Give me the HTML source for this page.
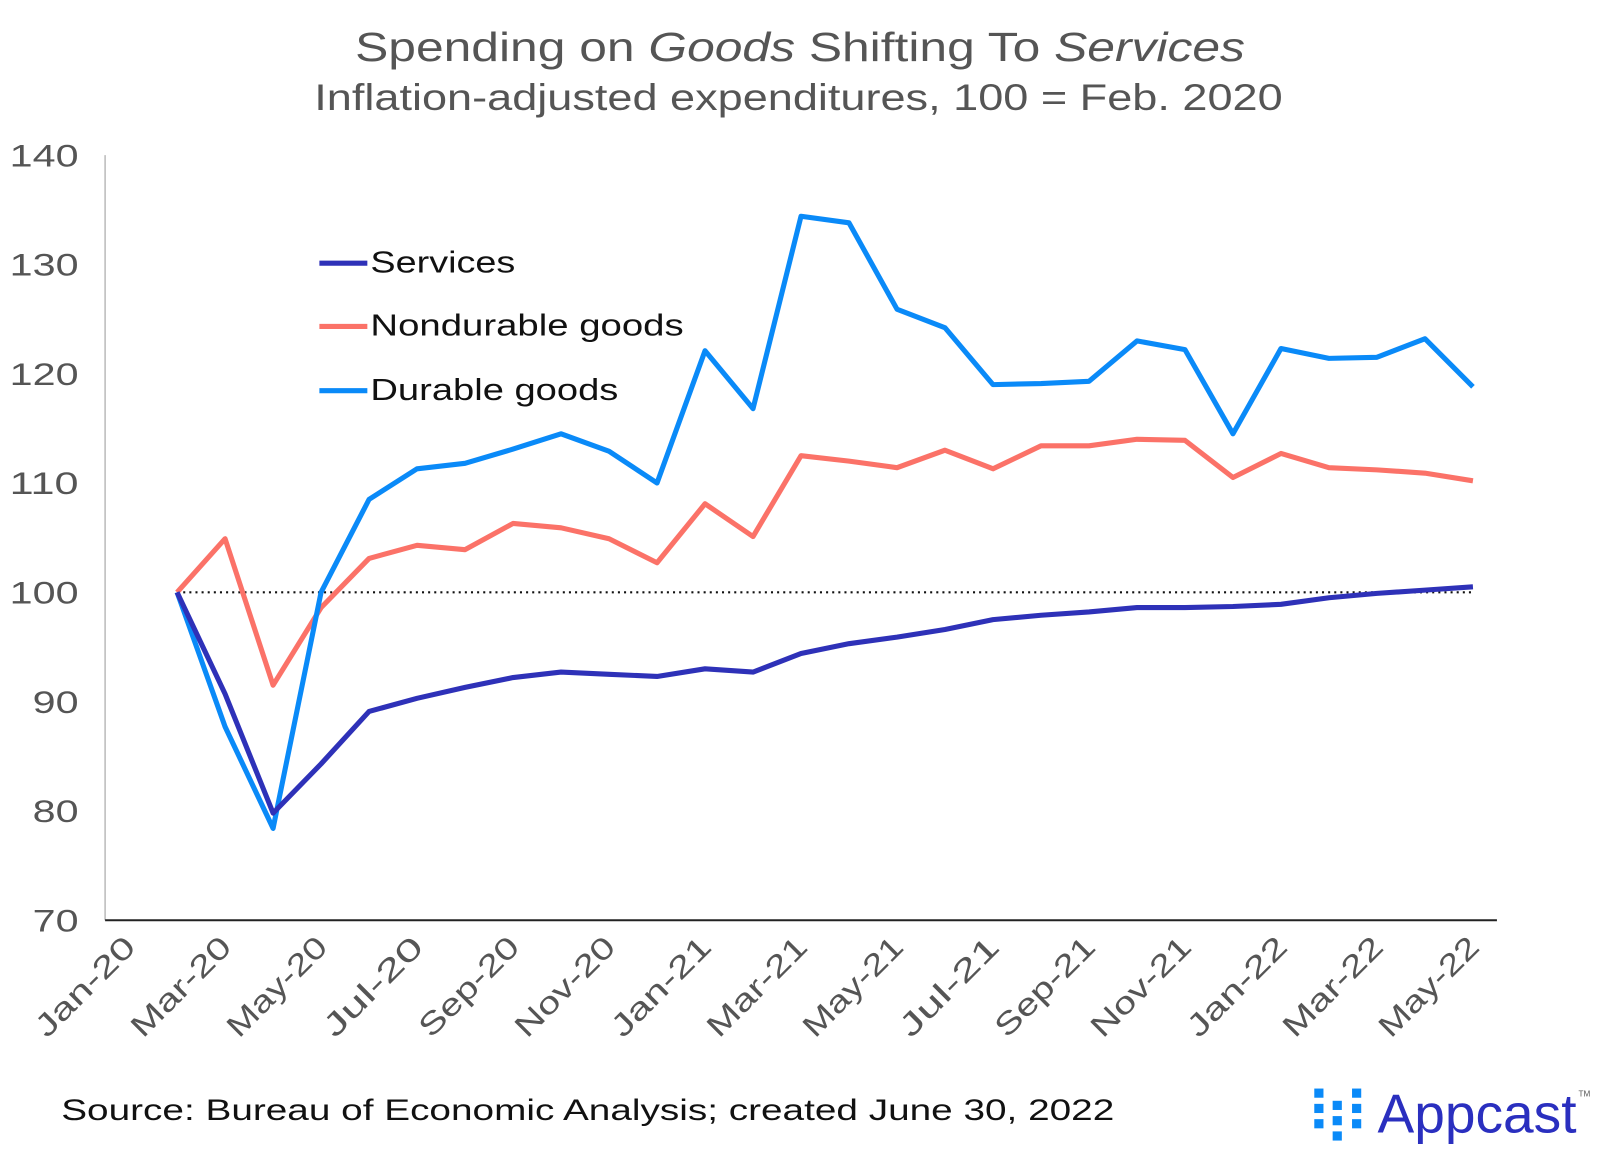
<!DOCTYPE html>
<html><head><meta charset="utf-8"><style>
body{margin:0;background:#fff;}
svg text{font-family:"Liberation Sans",sans-serif;}
</style></head><body>
<svg id="chart" width="1600" height="1162" viewBox="0 0 1568 1139" preserveAspectRatio="none" xmlns="http://www.w3.org/2000/svg">
<text x="348" y="60" font-size="40" fill="#555" textLength="872" lengthAdjust="spacingAndGlyphs">Spending on <tspan font-style="italic">Goods</tspan> Shifting To <tspan font-style="italic">Services</tspan></text>
<text x="308" y="108" font-size="36" fill="#555" textLength="949" lengthAdjust="spacingAndGlyphs">Inflation-adjusted expenditures, 100 = Feb. 2020</text>
<g id="yaxis"></g>
<g id="xaxis"></g>
<g id="series"></g>
<g>
<g><line x1="313" y1="258" x2="360" y2="258" stroke="#2e31b8" stroke-width="5"/><text x="363" y="267" font-size="30" fill="#111" textLength="142" lengthAdjust="spacingAndGlyphs">Services</text></g>
<g><line x1="313" y1="320" x2="360" y2="320" stroke="#fb7268" stroke-width="5"/><text x="363" y="329" font-size="30" fill="#111" textLength="307" lengthAdjust="spacingAndGlyphs">Nondurable goods</text></g>
<g><line x1="313" y1="383" x2="360" y2="383" stroke="#0a8af8" stroke-width="5"/><text x="363" y="392" font-size="30" fill="#111" textLength="243" lengthAdjust="spacingAndGlyphs">Durable goods</text></g>
</g>
<text x="60" y="1098" font-size="29" fill="#111" textLength="1032" lengthAdjust="spacingAndGlyphs">Source: Bureau of Economic Analysis; created June 30, 2022</text>
<g fill="#0a8af8">
<rect x="1288" y="1067" width="9" height="9"/><rect x="1288" y="1082" width="9" height="9"/><rect x="1288" y="1097" width="9" height="9"/>
<rect x="1306" y="1079" width="9" height="9"/><rect x="1306" y="1094" width="9" height="9"/><rect x="1306" y="1109" width="9" height="9"/>
<rect x="1325" y="1067" width="9" height="9"/><rect x="1325" y="1082" width="9" height="9"/><rect x="1325" y="1097" width="9" height="9"/>
<text x="1350" y="1110" font-size="54" fill="#2a2fbf" font-family="Liberation Sans Narrow, Liberation Sans, sans-serif" textLength="195" lengthAdjust="spacingAndGlyphs">Appcast</text>
<text x="1547" y="1075" font-size="8" fill="#555">TM</text>
</g>
</svg>
<script>
const months=["Jan-20","Feb-20","Mar-20","Apr-20","May-20","Jun-20","Jul-20","Aug-20","Sep-20","Oct-20","Nov-20","Dec-20","Jan-21","Feb-21","Mar-21","Apr-21","May-21","Jun-21","Jul-21","Aug-21","Sep-21","Oct-21","Nov-21","Dec-21","Jan-22","Feb-22","Mar-22","Apr-22","May-22"];
const yTicks=[70,80,90,100,110,120,130,140];
const services=[null,100,90.7,79.8,84.3,89.1,90.3,91.3,92.2,92.7,92.5,92.3,93.0,92.7,94.4,95.3,95.9,96.6,97.5,97.9,98.2,98.6,98.6,98.7,98.9,99.5,99.9,100.2,100.5];
const nondurable=[null,100,104.9,91.5,98.6,103.1,104.3,103.9,106.3,105.9,104.9,102.7,108.1,105.1,112.5,112.0,111.4,113.0,111.3,113.4,113.4,114.0,113.9,110.5,112.7,111.4,111.2,110.9,110.2];
const durable=[null,100,87.7,78.4,100,108.5,111.3,111.8,113.1,114.5,112.9,110.0,122.1,116.8,134.4,133.8,125.9,124.2,119.0,119.1,119.3,123.0,122.2,114.5,122.3,121.4,121.5,123.2,118.8];
const NS="http://www.w3.org/2000/svg";
const L=103,R=1467,T=152,B=902;
const step=(R-L)/months.length;
const x=i=>L+step*(i+0.5);
const y=v=>B-(v-70)/70*(B-T);
function mk(t,a,p){const e=document.createElementNS(NS,t);for(const k in a)e.setAttribute(k,a[k]);p.appendChild(e);return e;}
const ya=document.getElementById('yaxis'),xa=document.getElementById('xaxis'),sg=document.getElementById('series');
mk('line',{x1:L,y1:T,x2:L,y2:B,stroke:'#bbb','stroke-width':1.5},ya);
yTicks.forEach(v=>{const s=String(v);const t=mk('text',{x:77,y:y(v)+11,'text-anchor':'end','font-size':31,fill:'#555',textLength:s.length*22.5,lengthAdjust:'spacingAndGlyphs'},ya);t.textContent=s;

});
mk('line',{x1:L,y1:B,x2:R,y2:B,stroke:'#222','stroke-width':2},xa);
months.forEach((m,i)=>{if(i%2)return;const px=x(i)+8,py=B+28;const t=mk('text',{x:px,y:py,'text-anchor':'end','font-size':30,fill:'#555',textLength:125,lengthAdjust:'spacingAndGlyphs',transform:`rotate(-45 ${px} ${py})`},xa);t.textContent=m;

});
const ref=mk('line',{x1:x(1),y1:y(100),x2:x(28),y2:y(100),stroke:'#111','stroke-width':2,'stroke-dasharray':'2 4'},sg);


function line(arr,col,name){const pts=arr.map((v,i)=>v==null?null:x(i)+','+y(v)).filter(p=>p).join(' ');
const p=mk('polyline',{points:pts,fill:'none',stroke:col,'stroke-width':5,'stroke-linejoin':'round'},sg);

}
line(nondurable,'#fb7268','nondurable-goods-line');
line(durable,'#0a8af8','durable-goods-line');
line(services,'#2e31b8','services-line');
</script>
</body></html>
